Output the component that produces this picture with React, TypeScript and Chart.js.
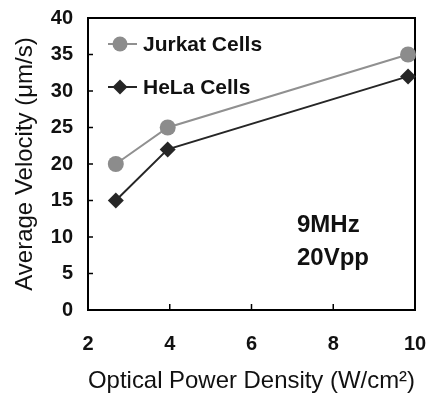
import React, { useEffect, useRef } from 'react';
import { Chart, registerables } from 'chart.js';

Chart.register(...registerables);

const powerDensity = [2.68, 3.95, 9.83];
const jurkatVelocity = [20, 25, 35];
const helaVelocity = [15, 22, 32];
const seriesLabels = ['Jurkat Cells', 'HeLa Cells'];
const annotationLines = ['9MHz', '20Vpp'];
const xTitle = 'Optical Power Density (W/cm²)';
const yTitle = 'Average Velocity (μm/s)';
const xRange = [2, 10, 2];
const yRange = [0, 40, 5];

const FONT = '"Liberation Sans", Arial, sans-serif';
const JURKAT_COLOR = '#8c8c8c';
const JURKAT_LINE = '#909090';
const HELA_COLOR = '#262626';

function drawMarker(ctx: CanvasRenderingContext2D, style: string, x: number, y: number, r: number, color: string) {
  ctx.save();
  ctx.fillStyle = color;
  ctx.beginPath();
  if (style === 'circle') {
    ctx.arc(x, y, r, 0, Math.PI * 2);
  } else {
    ctx.moveTo(x, y - r);
    ctx.lineTo(x + r, y);
    ctx.lineTo(x, y + r);
    ctx.lineTo(x - r, y);
    ctx.closePath();
  }
  ctx.fill();
  ctx.restore();
}

const framePlugin = {
  id: 'frame',
  beforeDatasetsDraw(chart: any) {
    const { ctx, chartArea } = chart;
    const { left, right, top, bottom } = chartArea;
    ctx.save();
    ctx.strokeStyle = '#000';
    ctx.lineWidth = 2;
    ctx.strokeRect(left, top, right - left, bottom - top);
    ctx.lineWidth = 1.5;
    const xs = chart.scales.x;
    xs.ticks.forEach((t: any) => {
      const px = xs.getPixelForValue(t.value);
      if (px <= left + 1 || px >= right - 1) return;
      ctx.beginPath();
      ctx.moveTo(px, bottom);
      ctx.lineTo(px, bottom - 6);
      ctx.stroke();
    });
    const ys = chart.scales.y;
    ys.ticks.forEach((t: any) => {
      const py = ys.getPixelForValue(t.value);
      if (py <= top + 1 || py >= bottom - 1) return;
      ctx.beginPath();
      ctx.moveTo(left, py);
      ctx.lineTo(left + 5, py);
      ctx.stroke();
    });
    ctx.restore();
  },
  afterDraw(chart: any) {
    const { ctx, chartArea } = chart;
    const { left, top } = chartArea;
    ctx.save();
    // legend
    const items = [
      { label: seriesLabels[0], style: 'circle', color: JURKAT_COLOR, line: JURKAT_LINE },
      { label: seriesLabels[1], style: 'diamond', color: HELA_COLOR, line: HELA_COLOR },
    ];
    items.forEach((it, i) => {
      const y = top + 26 + i * 43;
      const x0 = left + 20;
      ctx.strokeStyle = it.line;
      ctx.lineWidth = 2;
      ctx.beginPath();
      ctx.moveTo(x0, y);
      ctx.lineTo(x0 + 29, y);
      ctx.stroke();
      drawMarker(ctx, it.style, x0 + 12, y, 7.5, it.color);
      ctx.fillStyle = '#111';
      ctx.font = 'bold 21px ' + FONT;
      ctx.textBaseline = 'middle';
      ctx.textAlign = 'left';
      ctx.fillText(it.label, x0 + 35, y + 1);
    });
    // annotation
    ctx.font = 'bold 24px ' + FONT;
    ctx.fillStyle = '#111';
    ctx.textBaseline = 'alphabetic';
    annotationLines.forEach((s, i) => {
      ctx.fillText(s, left + 209, top + 214 + i * 33);
    });
    ctx.restore();
  },
};

export default function App() {
  const ref = useRef<HTMLCanvasElement>(null);
  useEffect(() => {
    if (!ref.current) return;
    const chart = new Chart(ref.current, {
      type: 'line',
      data: {
        datasets: [
          {
            label: seriesLabels[0],
            data: powerDensity.map((x, i) => ({ x, y: jurkatVelocity[i] })),
            borderColor: JURKAT_LINE,
            backgroundColor: JURKAT_COLOR,
            pointBackgroundColor: JURKAT_COLOR,
            pointBorderWidth: 0,
            pointRadius: 8,
            pointStyle: 'circle',
            borderWidth: 2,
            clip: false as any,
          },
          {
            label: seriesLabels[1],
            data: powerDensity.map((x, i) => ({ x, y: helaVelocity[i] })),
            borderColor: HELA_COLOR,
            backgroundColor: HELA_COLOR,
            pointBackgroundColor: HELA_COLOR,
            pointBorderWidth: 0,
            pointRadius: 8,
            pointStyle: 'rectRot',
            borderWidth: 2,
            clip: false as any,
          },
        ],
      },
      options: {
        responsive: false,
        animation: false,
        layout: { padding: { top: 18, right: 16, left: 0, bottom: 0 } },
        plugins: { legend: { display: false }, tooltip: { enabled: false } },
        scales: {
          x: {
            type: 'linear',
            min: xRange[0],
            max: xRange[1],
            grid: { display: false, drawTicks: false },
            border: { display: false },
            ticks: { stepSize: xRange[2], padding: 22, color: '#111', font: { family: FONT, size: 20, weight: 'bold' } },
            title: { display: true, text: xTitle, color: '#111', font: { family: FONT, size: 24 }, padding: { top: 0, bottom: -2 } },
            afterFit: (s: any) => { s.height = 84; s.paddingLeft = 0; s.paddingRight = 0; },
          },
          y: {
            min: yRange[0],
            max: yRange[1],
            grid: { display: false, drawTicks: false },
            border: { display: false },
            ticks: { stepSize: yRange[2], padding: 15, color: '#111', font: { family: FONT, size: 20, weight: 'bold' } },
            title: { display: true, text: yTitle, color: '#111', font: { family: FONT, size: 24 }, padding: { top: 11, bottom: 0 } },
            afterFit: (s: any) => { s.width = 88; s.paddingTop = 0; s.paddingBottom = 0; },
          },
        },
      },
      plugins: [framePlugin],
    } as any);
    return () => chart.destroy();
  }, []);
  return (
    <div style={{ position: 'absolute', left: 0, top: 0, width: 431, height: 394, background: '#fff' }}>
      <canvas ref={ref} width={431} height={394} />
    </div>
  );
}
